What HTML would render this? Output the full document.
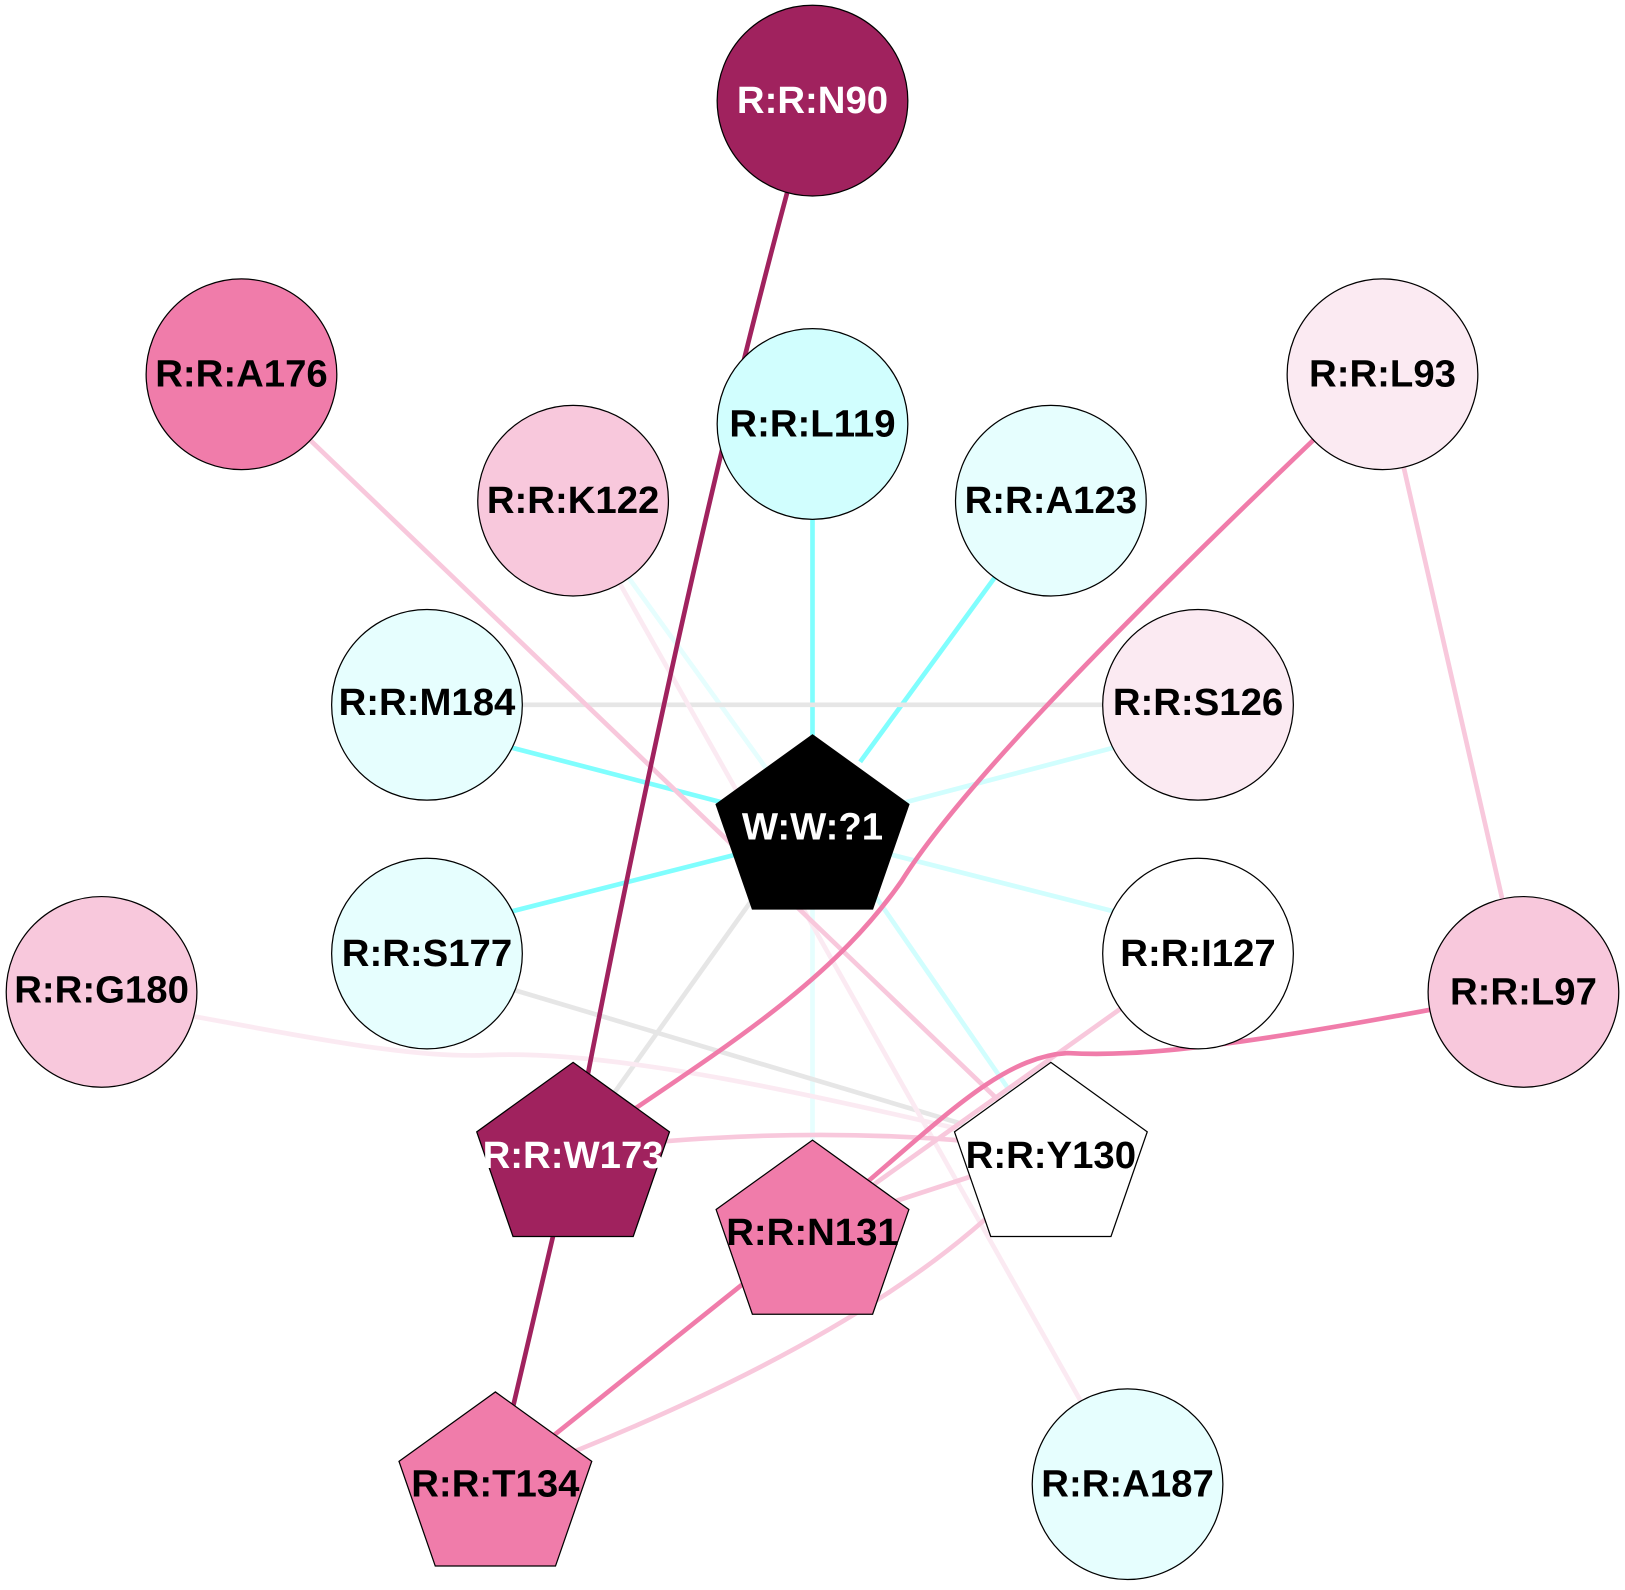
<!DOCTYPE html>
<html><head><meta charset="utf-8"><style>html,body{margin:0;padding:0;background:#fff}svg{display:block}</style></head>
<body>
<svg width="1625" height="1590" viewBox="0 0 1568 1534" xmlns="http://www.w3.org/2000/svg">
<g fill="none" stroke-width="4.5">
<line x1="784" y1="409" x2="784" y2="720" stroke="#80fefe"/>
<line x1="1014" y1="483" x2="830" y2="735" stroke="#80fefe"/>
<line x1="553" y1="483" x2="760" y2="770" stroke="#e6fefe"/>
<line x1="412" y1="680" x2="1156" y2="680" stroke="#e6e6e6"/>
<line x1="412" y1="700" x2="700" y2="775" stroke="#80fefe"/>
<line x1="1156" y1="700" x2="870" y2="775" stroke="#d1fefe"/>
<line x1="412" y1="900" x2="720" y2="822" stroke="#80fefe"/>
<line x1="1156" y1="900" x2="850" y2="822" stroke="#d1fefe"/>
<line x1="800" y1="800" x2="1014" y2="1110" stroke="#d1fefe"/>
<line x1="784" y1="850" x2="784" y2="1100" stroke="#e6fefe"/>
<line x1="760" y1="820" x2="553" y2="1110" stroke="#e6e6e6"/>
<line x1="412" y1="930" x2="1014" y2="1110" stroke="#e6e6e6"/>
<path d="M98 965 C250 990 380 1022 470 1018 C600 1012 800 1060 1014 1110" stroke="#fbeaf2"/>
<line x1="553" y1="483" x2="1088" y2="1432" stroke="#fbeaf2"/>
<line x1="233" y1="361" x2="1014" y2="1110" stroke="#f8c8dc"/>
<line x1="1334" y1="361" x2="1470" y2="957" stroke="#f8c8dc"/>
<line x1="1156" y1="920" x2="784" y2="1185" stroke="#f8c8dc"/>
<path d="M553 1110 Q800 1080 1014 1110" stroke="#f8c8dc"/>
<line x1="1014" y1="1110" x2="784" y2="1185" stroke="#f8c8dc"/>
<path d="M1014 1110 Q880 1280 478 1430" stroke="#f8c8dc"/>
<line x1="784" y1="1185" x2="478" y2="1430" stroke="#f07caa"/>
<path d="M1470 957 C1200 1010 1100 1020 1030 1016 C960 1020 900 1090 784 1185" stroke="#f07caa"/>
<path d="M1334 361 C1050 630 920 770 870 850 C800 950 700 1010 553 1110" stroke="#f07caa"/>
<path d="M784 97 Q670 500 553 1110 L478 1430" stroke="#a0225e"/>
</g>
<g stroke="#000" stroke-width="1.2">
<circle cx="784" cy="97" r="92" fill="#a0225e"/>
<circle cx="233" cy="361" r="92" fill="#f07caa"/>
<circle cx="784" cy="409" r="92" fill="#d1fefe"/>
<circle cx="553" cy="483" r="92" fill="#f8c8dc"/>
<circle cx="1014" cy="483" r="92" fill="#e6fefe"/>
<circle cx="1334" cy="361" r="92" fill="#fbeaf2"/>
<circle cx="412" cy="680" r="92" fill="#e6fefe"/>
<circle cx="1156" cy="680" r="92" fill="#fbeaf2"/>
<circle cx="412" cy="920" r="92" fill="#e6fefe"/>
<circle cx="1156" cy="920" r="92" fill="#ffffff"/>
<circle cx="98" cy="957" r="92" fill="#f8c8dc"/>
<circle cx="1470" cy="957" r="92" fill="#f8c8dc"/>
<circle cx="1088" cy="1432" r="92" fill="#e6fefe"/>
<polygon points="784,709 877,776 842,877 726,877 691,776" fill="#000"/>
<polygon points="553,1025 646,1092 611,1193 495,1193 460,1092" fill="#a0225e"/>
<polygon points="1014,1025 1107,1092 1072,1193 956,1193 921,1092" fill="#fff"/>
<polygon points="784,1100 877,1167 842,1268 726,1268 691,1167" fill="#f07caa"/>
<polygon points="478,1343 571,1410 536,1511 420,1511 385,1410" fill="#f07caa"/>
</g>
<g font-family="Liberation Sans, Arial, sans-serif" font-weight="bold" font-size="37" text-anchor="middle">
<text x="784" y="109" fill="#fff">R:R:N90</text>
<text x="233" y="373">R:R:A176</text>
<text x="784" y="421">R:R:L119</text>
<text x="553" y="495">R:R:K122</text>
<text x="1014" y="495">R:R:A123</text>
<text x="1334" y="373">R:R:L93</text>
<text x="412" y="690">R:R:M184</text>
<text x="1156" y="690">R:R:S126</text>
<text x="784" y="810" fill="#fff">W:W:?1</text>
<text x="412" y="932">R:R:S177</text>
<text x="1156" y="932">R:R:I127</text>
<text x="98" y="967">R:R:G180</text>
<text x="1470" y="969">R:R:L97</text>
<text x="553" y="1127" fill="#fff">R:R:W173</text>
<text x="1014" y="1127">R:R:Y130</text>
<text x="784" y="1201">R:R:N131</text>
<text x="478" y="1444">R:R:T134</text>
<text x="1088" y="1444">R:R:A187</text>
</g>
</svg>
</body></html>
